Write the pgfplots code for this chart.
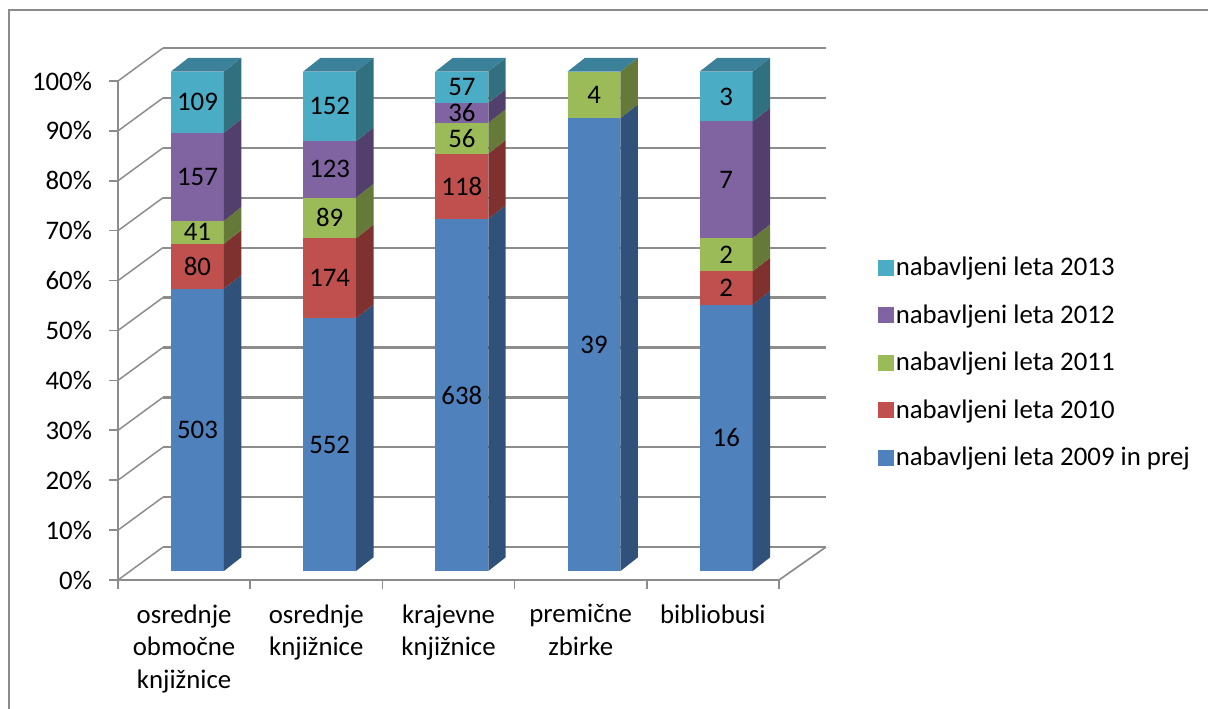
\documentclass[border=0pt]{standalone}
\usepackage{fontspec}
\setmainfont{Carlito}
\usepackage{pgfplots}
\usepackage{pgfplotstable}
\pgfplotsset{compat=1.18}

\definecolor{fblue}{HTML}{4F81BD}\definecolor{sblue}{HTML}{30527A}
\definecolor{fred}{HTML}{C0504D}\definecolor{sred}{HTML}{7F312F}
\definecolor{fgreen}{HTML}{9BBB59}\definecolor{sgreen}{HTML}{657A38}
\definecolor{fpurple}{HTML}{8064A2}\definecolor{spurple}{HTML}{533F6B}
\definecolor{fteal}{HTML}{4BACC6}\definecolor{steal}{HTML}{31707F}
\definecolor{tteal}{HTML}{3A8199}
\definecolor{gridgrey}{HTML}{8C8C8C}

% counts shown on the bars
\pgfplotstableread{
cat v2009 v2010 v2011 v2012 v2013 total
0   503   80    41    157   109   890
1   552   174   89    123   152   1090
2   638   118   56    36    57    905
3   39    0     4     0     0     43
4   16    2     2     7     3     30
}\counts

% fake 3D geometry, in axis units
\def\barleft{0.401}
\def\barwidth{0.400}
\def\depthx{0.132}
\def\depthy{2.75}
\def\baseshift{1.8}
\def\stretch{1.001}

\newcommand\segment[3]{%
  \pgfplotstablegetelem{\i}{#1}\of\counts
  \let\val\pgfplotsretval
  \pgfmathsetmacro\cumnew{\cum+\val}%
  \pgfmathsetmacro\xa{\i+\barleft}%
  \pgfmathsetmacro\xb{\xa+\barwidth}%
  \pgfmathsetmacro\xc{\xb+\depthx}%
  \pgfmathsetmacro\xm{\xa+0.5*\barwidth}%
  \pgfmathsetmacro\ya{\baseshift+\stretch*100*(\cum/\total)}%
  \pgfmathsetmacro\yb{\baseshift+\stretch*100*(\cumnew/\total)}%
  \pgfmathsetmacro\yaa{\ya+\depthy}%
  \pgfmathsetmacro\ybb{\yb+\depthy}%
  \pgfmathsetmacro\ym{0.5*(\ya+\yb)}%
  \ifnum\val>0
    \edef\temp{\noexpand\addplot[draw=none,fill=#2,forget plot] coordinates {(\xa,\ya) (\xb,\ya) (\xb,\yb) (\xa,\yb)} -- cycle;
      \noexpand\addplot[draw=none,fill=#3,forget plot] coordinates {(\xb,\ya) (\xc,\yaa) (\xc,\ybb) (\xb,\yb)} -- cycle;
      \noexpand\node[font=\noexpand\fontsize{26.8}{32}\noexpand\selectfont] at (axis cs:\xm,\ym) {\val};}%
    \temp
  \fi
  \let\cum\cumnew
}

\begin{document}
\begin{tikzpicture}
  % one pt is one pixel of the reference; axis origin is pixel (118,580)
  \useasboundingbox (-118pt,-129pt) rectangle (1090pt,580pt);
  \draw[gridgrey,line width=2pt] (-109pt,-129pt) -- (-109pt,570pt) -- (1090pt,570pt);
  \begin{axis}[
    at={(0pt,0pt)}, anchor=south west,
    scale only axis, width=661pt, height=499pt,
    xmin=0, xmax=5, ymin=0, ymax=100,
    clip=false,
    axis x line*=bottom, axis y line*=left,
    axis line style={gridgrey,line width=2.2pt,-},
    tick style={gridgrey,line width=1.6pt},
    tick align=outside, major tick length=8.5pt,
    xtick={0,1,2,3,4,5},
    x tick label as interval,
    xticklabels={{osrednje\\območne\\knjižnice},{osrednje\\knjižnice},{krajevne\\knjižnice},{premične\\zbirke},{bibliobusi}},
    xticklabel style={align=center,anchor=north,yshift=-12.5pt,
      font=\fontsize{26.8}{32.5}\selectfont},
    ytick={0,10,...,100},
    yticklabel={\pgfmathprintnumber{\tick}\%},
    /pgf/number format/assume math mode=true,
    yticklabel style={font=\fontsize{26.8}{32}\selectfont,xshift=-14pt},
    legend cell align=left,
    legend style={draw=none,fill=none,at={(axis cs:5.75,65.1)},anchor=north west,
      font=\fontsize{26.8}{32}\selectfont,row sep=23.4pt,inner sep=0pt,
      /tikz/every even column/.append style={column sep=10pt}},
  ]
    % back wall gridlines and floor
    \pgfplotsinvokeforeach{0,10,...,100}{
      \addplot[gridgrey,line width=1.5pt,forget plot] coordinates {(0,#1) (0.34,#1+6.6)};
      \addplot[gridgrey,line width=2.3pt,forget plot] coordinates {(0.34,#1+6.6) (5.355,#1+6.6)};
    }
    \addplot[gridgrey,line width=1.7pt,forget plot] coordinates {(5,0) (5.355,6.6)};

    \pgfplotsforeachungrouped \i in {0,...,4}{
      \pgfplotstablegetelem{\i}{total}\of\counts
      \let\total\pgfplotsretval
      \def\cum{0}
      \segment{v2009}{fblue}{sblue}
      \segment{v2010}{fred}{sred}
      \segment{v2011}{fgreen}{sgreen}
      \segment{v2012}{fpurple}{spurple}
      \segment{v2013}{fteal}{steal}
      % lid of the stack
      \pgfmathsetmacro\xa{\i+\barleft}
      \pgfmathsetmacro\xb{\xa+\barwidth}
      \pgfmathsetmacro\xbb{\xb+\depthx}
      \pgfmathsetmacro\xaa{\xa+\depthx}
      \pgfmathsetmacro\yt{\baseshift+\stretch*100}
      \pgfmathsetmacro\ytt{\yt+\depthy}
      \addplot[draw=none,fill=tteal,forget plot] coordinates {(\xa,\yt) (\xb,\yt) (\xbb,\ytt) (\xaa,\ytt)} -- cycle;
    }

    \pgfplotsset{legend image code/.code={\fill[#1] (0pt,-7.5pt) rectangle (15pt,7.5pt);}}
    \addlegendimage{fteal}\addlegendentry{nabavljeni leta 2013}
    \addlegendimage{fpurple}\addlegendentry{nabavljeni leta 2012}
    \addlegendimage{fgreen}\addlegendentry{nabavljeni leta 2011}
    \addlegendimage{fred}\addlegendentry{nabavljeni leta 2010}
    \addlegendimage{fblue}\addlegendentry{nabavljeni leta 2009 in prej}
  \end{axis}
\end{tikzpicture}
\end{document}
